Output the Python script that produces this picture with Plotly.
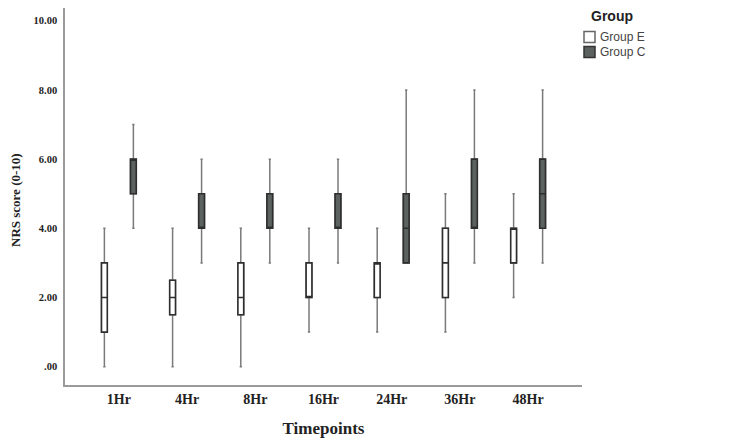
import plotly.graph_objects as go

categories = ["1Hr", "4Hr", "8Hr", "16Hr", "24Hr", "36Hr", "48Hr"]

# Group E (white boxes)
e_min = [0, 0, 0, 1, 1, 1, 2]
e_q1 = [1, 1.5, 1.5, 2, 2, 2, 3]
e_med = [2, 2, 2, 2, 3, 3, 4]
e_q3 = [3, 2.5, 3, 3, 3, 4, 4]
e_max = [4, 4, 4, 4, 4, 5, 5]

# Group C (dark boxes)
c_min = [4, 3, 3, 3, 3, 3, 3]
c_q1 = [5, 4, 4, 4, 3, 4, 4]
c_med = [6, 4, 4, 4, 4, 4, 5]
c_q3 = [6, 5, 5, 5, 5, 6, 6]
c_max = [7, 6, 6, 6, 8, 8, 8]

y_ticks = [0, 2, 4, 6, 8, 10]
y_tick_labels = [".00", "2.00", "4.00", "6.00", "8.00", "10.00"]

groups = ["Group E", "Group C"]

E_FILL = "#ffffff"
C_FILL = "#5b625f"
LINE = "#2e2e2e"
WHISK = "#7a7a7a"

W, H = 742, 438
ML, MR, MT, MB = 57, 168, 0, 61
PW, PH = W - ML - MR, H - MT - MB


def px(x):
    return (x - ML) / PW


def py(y):
    return (H - MB - y) / PH


fig = go.Figure()
series = [
    (groups[0], E_FILL, e_min, e_q1, e_med, e_q3, e_max),
    (groups[1], C_FILL, c_min, c_q1, c_med, c_q3, c_max),
]
# whiskers (grey) underneath
for nm, col, mn, q1, md, q3, mx in series:
    fig.add_trace(go.Box(
        x=categories, q1=q1, median=md, q3=q3,
        lowerfence=mn, upperfence=mx,
        name=nm, offsetgroup=nm, alignmentgroup="a", fillcolor=col,
        line=dict(color=WHISK, width=1.5), whiskerwidth=0.4,
        showlegend=False, hoverinfo="skip",
    ))
# boxes (dark outline) on top
for nm, col, mn, q1, md, q3, mx in series:
    fig.add_trace(go.Box(
        x=categories, q1=q1, median=md, q3=q3,
        lowerfence=q1, upperfence=q3,
        name=nm, offsetgroup=nm, alignmentgroup="a", fillcolor=col,
        line=dict(color=LINE, width=1.6), whiskerwidth=0,
        showlegend=False, hoverinfo="skip",
    ))

LEG_FONT = dict(family="Liberation Sans, Arial", size=12, color="#444")
annotations = [
    dict(text="<b>NRS score (0-10)</b>", textangle=-90,
         xref="paper", yref="paper", x=px(7), y=py(192),
         xanchor="center", yanchor="middle", showarrow=False,
         font=dict(family="Liberation Serif, Times New Roman", size=13, color="#222")),
    dict(text="<b>Group</b>", xref="paper", yref="paper", x=px(604), y=py(8),
         xanchor="center", yanchor="middle", showarrow=False,
         font=dict(family="Liberation Sans, Arial", size=14, color="#222")),
]
shapes = []
for i, (nm, col, bc) in enumerate([(groups[0], E_FILL, "#666666"), (groups[1], C_FILL, "#333333")]):
    yc = 29 + 15 * i
    shapes.append(dict(type="rect", xref="paper", yref="paper",
                       x0=px(576), x1=px(587), y0=py(yc + 5.5), y1=py(yc - 5.5),
                       fillcolor=col, line=dict(color=bc, width=1.5)))
    annotations.append(dict(text=nm, xref="paper", yref="paper", x=px(590), y=py(yc),
                            xanchor="left", yanchor="middle", showarrow=False, font=LEG_FONT))

fig.update_layout(
    width=W, height=H,
    margin=dict(l=ML, r=MR, t=MT, b=MB),
    paper_bgcolor="white", plot_bgcolor="white",
    boxmode="group", boxgap=0.15, boxgroupgap=0.8,
    showlegend=False,
    xaxis=dict(
        type="category", categoryorder="array", categoryarray=categories,
        tickvals=categories, ticktext=["<b>%s</b>" % c for c in categories],
        range=[-0.79, 6.79],
        showline=True, linecolor="#9a9a9a", linewidth=1.5,
        ticks="", showgrid=False, zeroline=False,
        tickfont=dict(family="Liberation Serif, Times New Roman", size=14, color="#222"),
        title=dict(text="<b>Timepoints</b>", standoff=17,
                   font=dict(family="Liberation Serif, Times New Roman", size=17, color="#222")),
    ),
    yaxis=dict(
        range=[-0.53, 10.37],
        tickvals=y_ticks, ticktext=["<b>%s</b>" % t for t in y_tick_labels],
        showline=True, linecolor="#9a9a9a", linewidth=1.5,
        ticks="", showgrid=False, zeroline=False, ticklabelstandoff=4,
        tickfont=dict(family="Liberation Serif, Times New Roman", size=10.5, color="#222"),
    ),
    annotations=annotations,
    shapes=shapes,
)

fig.write_html("out.html")
